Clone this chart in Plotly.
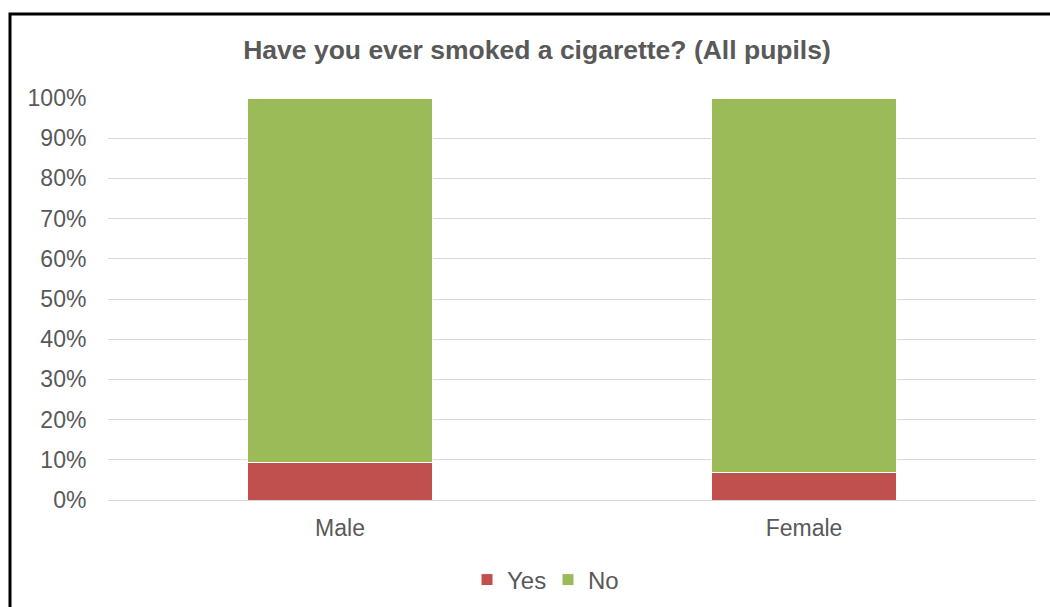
import plotly.graph_objects as go

categories = ["Male", "Female"]
yes_values = [0.094, 0.069]
no_values = [0.906, 0.931]
series_names = ["Yes", "No"]
colors = ["#C0504D", "#9BBB59"]
title_text = "Have you ever smoked a cigarette? (All pupils)"

fig = go.Figure()
for name, vals, col in zip(series_names, [yes_values, no_values], colors):
    fig.add_trace(go.Bar(
        x=categories, y=vals, name=name,
        marker=dict(color=col, line=dict(color="white", width=1)),
    ))

W, H = 1050, 607
L, R, T, B = 108, 1036, 98, 500
pw, ph = R - L, B - T

def px_x(p):
    return (p - L) / pw

def px_y(p):
    return (B - p) / ph

fig.update_layout(
    barmode="stack",
    bargap=0.6,
    width=W, height=H,
    margin=dict(l=L, r=W - R, t=T, b=H - B, autoexpand=False),
    paper_bgcolor="white",
    plot_bgcolor="white",
    font=dict(family="Liberation Sans, Arial, sans-serif", color="#595959", size=23),
    title=dict(text="<b>" + title_text + "</b>", x=537 / W, xanchor="center",
               y=1 - 50 / H, yanchor="middle",
               font=dict(size=26.5, color="#595959")),
    legend=dict(orientation="h", x=548 / W, xanchor="center", xref="container",
                y=1 - 580 / H, yanchor="middle", yref="container",
                font=dict(size=24, color="#595959"), traceorder="normal",
                itemwidth=30, entrywidth=36),
    showlegend=True,
    xaxis=dict(showgrid=False, showline=False, ticks="outside", ticklen=7,
               tickcolor="rgba(0,0,0,0)", tickfont=dict(size=23, color="#595959")),
    yaxis=dict(range=[0, 1], tickformat=".0%", dtick=0.1, showgrid=True,
               gridcolor="#D9D9D9", gridwidth=1, zeroline=True, zerolinecolor="#D9D9D9",
               zerolinewidth=1, showline=False, ticks="outside", ticklen=16,
               tickcolor="rgba(0,0,0,0)", tickfont=dict(size=23, color="#595959")),
    shapes=[dict(type="rect", xref="paper", yref="paper",
                 x0=px_x(10), x1=px_x(1070), y0=px_y(650), y1=px_y(14),
                 line=dict(color="black", width=3), fillcolor="rgba(0,0,0,0)", layer="above")],
)

fig.write_html("out.html", config={"displayModeBar": False},
               post_script="document.body.style.margin='0px';")
